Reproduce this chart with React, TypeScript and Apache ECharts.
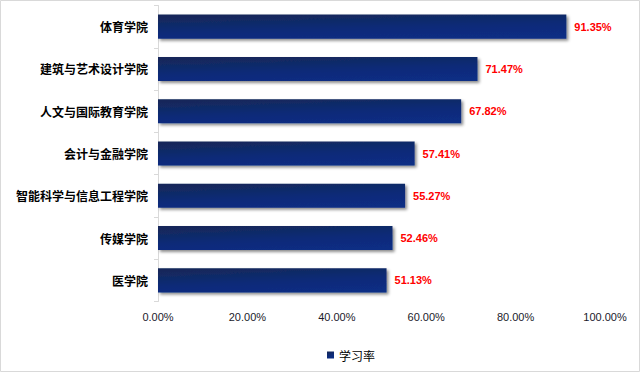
import React, { useEffect, useRef } from "react";
import * as echarts from "echarts";

const categories = [
  "体育学院",
  "建筑与艺术设计学院",
  "人文与国际教育学院",
  "会计与金融学院",
  "智能科学与信息工程学院",
  "传媒学院",
  "医学院",
];
const values = [91.35, 71.47, 67.82, 57.41, 55.27, 52.46, 51.13];
const seriesName = "学习率";
const xTicks = { min: 0, max: 100, interval: 20 };

export default function App() {
  const ref = useRef<HTMLDivElement>(null);
  useEffect(() => {
    if (!ref.current) return;
    const chart = echarts.init(ref.current, undefined, { renderer: "svg" });
    const barColor = new echarts.graphic.LinearGradient(0.3, 0, 0.7, 1, [
      { offset: 0, color: "#14285a" },
      { offset: 0.55, color: "#0d2b78" },
      { offset: 1, color: "#0a2d84" },
    ]);
    chart.setOption({
      animation: false,
      backgroundColor: "#ffffff",
      graphic: [
        {
          type: "rect",
          shape: { x: 0.5, y: 0.5, width: 639, height: 371 },
          style: { fill: "none", stroke: "#d9d9d9", lineWidth: 1 },
          silent: true,
        },
      ],
      grid: { left: 158, right: 35, top: 5.5, bottom: 70.5, containLabel: false },
      legend: {
        bottom: 6,
        left: 322,
        itemWidth: 7,
        itemHeight: 7,
        itemGap: 4,
        icon: "rect",
        textStyle: { fontSize: 12, color: "#000", fontFamily: "Noto Sans CJK SC" },
        data: [seriesName],
      },
      xAxis: {
        type: "value",
        min: xTicks.min,
        max: xTicks.max,
        interval: xTicks.interval,
        axisLine: { show: false },
        axisTick: { show: false },
        splitLine: { show: false },
        axisLabel: {
          margin: 10,
          fontSize: 11,
          color: "#1a1a2a",
          fontFamily: "Liberation Sans, Arial, sans-serif",
          formatter: (v: number) => v.toFixed(2) + "%",
        },
      },
      yAxis: {
        type: "category",
        data: categories,
        inverse: true,
        axisLine: { show: true, lineStyle: { color: "#d9d9d9", width: 1 } },
        axisTick: { show: true, length: 4, lineStyle: { color: "#d9d9d9" } },
        axisLabel: {
          margin: 10,
          fontSize: 12,
          fontWeight: "bold",
          color: "#000",
          fontFamily: "Noto Sans CJK SC",
        },
      },
      series: [
        {
          name: seriesName,
          type: "bar",
          data: values,
          barCategoryGap: "43%",
          itemStyle: {
            color: barColor,
            shadowColor: "rgba(0,0,0,0.45)",
            shadowBlur: 3,
            shadowOffsetX: 2,
            shadowOffsetY: 2,
          },
          label: {
            show: true,
            position: "right",
            distance: 8,
            color: "#ff0000",
            fontSize: 11,
            fontWeight: "bold",
            fontFamily: "Liberation Sans, Arial, sans-serif",
            formatter: (p: any) => p.value.toFixed(2) + "%",
          },
        },
      ],
    });
    return () => chart.dispose();
  }, []);
  return (
    <div
      ref={ref}
      style={{ position: "fixed", left: 0, top: 0, width: 640, height: 372 }}
    />
  );
}
